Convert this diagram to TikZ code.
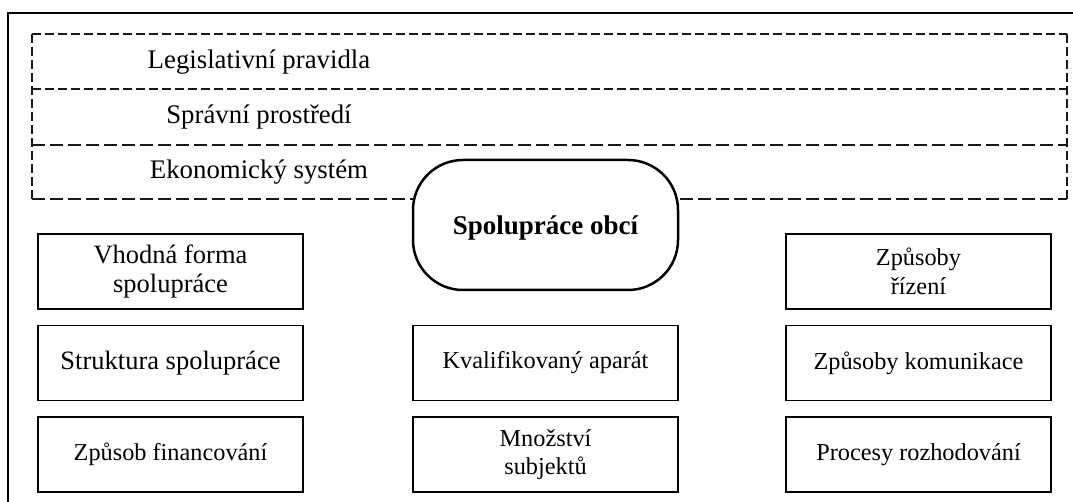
\documentclass[tikz,border=0pt]{standalone}
\usepackage{fontspec}
\setmainfont{Liberation Serif}
\begin{document}
\begin{tikzpicture}[x=1pt,y=-1pt,
  frame/.style={line width=2pt},
  dshort/.style={line width=1.4pt, dash pattern=on 9pt off 4pt, draw=black!90},
  dlong/.style={line width=1.4pt, dash pattern=on 13pt off 5pt, draw=black!90},
  bandtext/.style={inner sep=0pt, font=\fontsize{26.8}{30}\selectfont},
  box/.style={draw, line width=1.5pt, minimum width=265pt, minimum height=75pt, inner sep=0pt, align=center},
  bigtxt/.style={font=\fontsize{26.5}{29}\selectfont},
  smalltxt/.style={font=\fontsize{24.3}{28.5}\selectfont},
  hub/.style={draw, line width=2.5pt, fill=white, rounded corners=50pt, minimum width=265pt, minimum height=130pt, inner sep=0pt}
]
\useasboundingbox (0,0) rectangle (1073,502);

% outer frame (cut at right and bottom)
\coordinate (fb) at (8,502);
\coordinate (ftl) at (8,13);
\coordinate (ftr) at (1073,13);
\draw[frame] (fb) -- (ftl) -- (ftr);

% dashed environment bands
\coordinate (a1) at (32,34);  \coordinate (b1) at (1067,34);
\coordinate (a2) at (32,89);  \coordinate (b2) at (1067,89);
\coordinate (a3) at (32,145); \coordinate (b3) at (1067,145);
\coordinate (a4) at (32,199); \coordinate (b4) at (1067,199);
\draw[dshort] (a1) -- (b1);
\draw[dshort] (a2) -- (b2);
\draw[dlong] (a3) -- (b3);
\draw[dlong] (a4) -- (b4);
\draw[dshort] (a1) -- (a4);
\draw[dshort] (b1) -- (b4);

\node[bandtext] (lp) at (259,62) {Legislativní pravidla};
\node[bandtext] (sp) at (259,117.5) {Správní prostředí};
\node[bandtext] (es) at (259,172) {Ekonomický systém};

% central node
\node[hub] (so) at (545.5,225) {};
\node[inner sep=0pt, font=\fontsize{27}{30}\selectfont\bfseries] (sot) at (545.5,228) {Spolupráce obcí};

% left column
\node[box, bigtxt] (vf) at (170.5,271.5) {Vhodná forma\\spolupráce};
\node[box, bigtxt] (ss) at (170.5,363) {Struktura spolupráce};
\node[box, smalltxt] (zf) at (170.5,454.5) {Způsob financování};

% middle column
\node[box, smalltxt] (ka) at (545.5,363) {Kvalifikovaný aparát};
\node[box, smalltxt] (ms) at (545.5,454.5) {Množství\\subjektů};

% right column
\node[box, smalltxt] (zr) at (918.5,271.5) {Způsoby\\řízení};
\node[box, smalltxt] (zk) at (918.5,363) {Způsoby komunikace};
\node[box, smalltxt] (pr) at (918.5,454.5) {Procesy rozhodování};
\end{tikzpicture}
\end{document}
